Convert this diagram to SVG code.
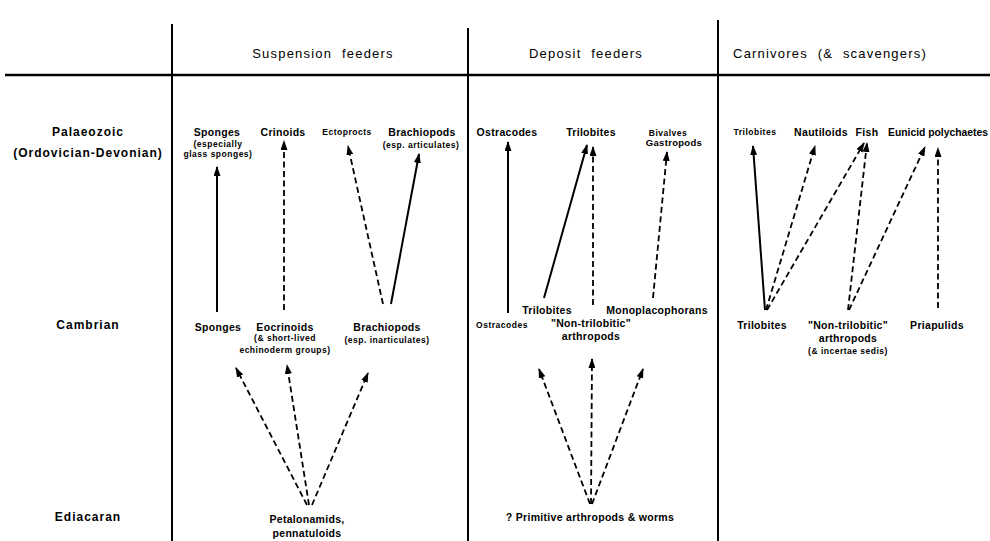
<svg xmlns="http://www.w3.org/2000/svg" width="990" height="541" viewBox="0 0 990 541">
<style>
text{font-family:"Liberation Sans",Arial,sans-serif;fill:#000;text-anchor:middle}
.hd{font-size:13px;letter-spacing:1.2px;word-spacing:5px}
.era{font-size:12px;font-weight:bold;letter-spacing:1px}
.t{font-size:10.5px;font-weight:bold;letter-spacing:0.3px}
.s{font-size:8.5px;font-weight:bold;letter-spacing:0.5px}
.grid{stroke:#000;fill:none}
.sol{stroke:#000;stroke-width:2;fill:none;marker-end:url(#ah)}
.dsh{stroke:#000;stroke-width:1.8;fill:none;stroke-dasharray:6 3.5;marker-end:url(#ah)}
</style>
<defs>
<marker id="ah" viewBox="0 0 10 7" refX="9" refY="3.5" markerWidth="10" markerHeight="7" markerUnits="userSpaceOnUse" orient="auto">
<path d="M0,0 L10,3.5 L0,7 z" fill="#000"/>
</marker>
</defs>
<rect width="990" height="541" fill="#fff"/>
<g id="grid" class="grid">
<line x1="5" y1="75" x2="990" y2="75" stroke-width="2.5"/>
<line x1="172" y1="24" x2="172" y2="541" stroke-width="2"/>
<line x1="468" y1="28" x2="468" y2="541" stroke-width="2"/>
<line x1="718" y1="20" x2="718" y2="541" stroke-width="2"/>
</g>
<g id="headers">
<text class="hd" x="323" y="58">Suspension feeders</text>
<text class="hd" x="586" y="58">Deposit feeders</text>
<text class="hd" x="830" y="58">Carnivores (&amp; scavengers)</text>
</g>
<g id="eras">
<text class="era" x="88" y="136">Palaeozoic</text>
<text class="era" x="88" y="157">(Ordovician-Devonian)</text>
<text class="era" x="88" y="329">Cambrian</text>
<text class="era" x="88" y="521">Ediacaran</text>
</g>
<g id="connectors">
<line class="sol" x1="217" y1="312" x2="217" y2="167"/>
<line class="dsh" x1="284" y1="310" x2="284" y2="141"/>
<line class="dsh" x1="383" y1="304" x2="348" y2="146"/>
<line class="sol" x1="391" y1="304" x2="419" y2="154"/>
<line class="dsh" x1="307" y1="505" x2="236" y2="368"/>
<line class="dsh" x1="309" y1="505" x2="287" y2="365"/>
<line class="dsh" x1="312" y1="505" x2="368" y2="373"/>
<line class="sol" x1="508" y1="313" x2="508" y2="142"/>
<line class="sol" x1="544" y1="298" x2="587" y2="145"/>
<line class="dsh" x1="593" y1="305" x2="593" y2="147"/>
<line class="dsh" x1="653" y1="298" x2="667" y2="152"/>
<line class="dsh" x1="590" y1="504" x2="539" y2="369"/>
<line class="dsh" x1="591" y1="504" x2="592" y2="359"/>
<line class="dsh" x1="592" y1="504" x2="643" y2="369"/>
<line class="sol" x1="765" y1="310" x2="753" y2="146"/>
<line class="dsh" x1="766" y1="310" x2="815" y2="146"/>
<line class="dsh" x1="767" y1="310" x2="864" y2="143"/>
<line class="dsh" x1="848" y1="310" x2="867" y2="143"/>
<line class="dsh" x1="849" y1="310" x2="925" y2="147"/>
<line class="dsh" x1="938" y1="308" x2="938" y2="148"/>
</g>
<g id="sponges-p"><text class="t" x="217" y="136">Sponges</text><text class="s" x="218" y="147">(especially</text><text class="s" x="218" y="157">glass sponges)</text></g>
<g id="crinoids"><text class="t" x="283" y="136">Crinoids</text></g>
<g id="ectoprocts"><text class="s" x="347" y="135">Ectoprocts</text></g>
<g id="brachiopods-p"><text class="t" x="422" y="136">Brachiopods</text><text class="s" x="421" y="148">(esp. articulates)</text></g>
<g id="sponges-c"><text class="t" x="218" y="331">Sponges</text></g>
<g id="eocrinoids"><text class="t" x="285" y="331">Eocrinoids</text><text class="s" x="285" y="341">(&amp; short-lived</text><text class="s" x="285" y="353">echinoderm groups)</text></g>
<g id="brachiopods-c"><text class="t" x="387" y="331">Brachiopods</text><text class="s" x="387" y="343">(esp. inarticulates)</text></g>
<g id="petalonamids"><text class="t" x="307" y="523">Petalonamids,</text><text class="t" x="307" y="537">pennatuloids</text></g>
<g id="ostracodes-p"><text class="t" x="507" y="136">Ostracodes</text></g>
<g id="trilobites-p"><text class="t" x="591" y="136">Trilobites</text></g>
<g id="bivalves"><text class="s" x="668" y="136">Bivalves</text><text class="t" x="674" y="146" style="font-size:9.5px">Gastropods</text></g>
<g id="trilobites-c"><text class="t" x="547" y="314">Trilobites</text></g>
<g id="monoplacophorans"><text class="t" x="657" y="314">Monoplacophorans</text></g>
<g id="ostracodes-c"><text class="s" x="502" y="328">Ostracodes</text></g>
<g id="nontrilobitic-d"><text class="t" x="591" y="327">"Non-trilobitic"</text><text class="t" x="591" y="340">arthropods</text></g>
<g id="primitive"><text class="t" x="590" y="521">? Primitive  arthropods &amp; worms</text></g>
<g id="trilobites-cp"><text class="s" x="755" y="135">Trilobites</text></g>
<g id="nautiloids"><text class="t" x="821" y="136">Nautiloids</text></g>
<g id="fish"><text class="t" x="867" y="136">Fish</text></g>
<g id="eunicid"><text class="t" x="888" y="136" style="text-anchor:start;letter-spacing:0" textLength="100" lengthAdjust="spacingAndGlyphs">Eunicid polychaetes</text></g>
<g id="trilobites-cc"><text class="t" x="762" y="329">Trilobites</text></g>
<g id="nontrilobitic-c"><text class="t" x="848" y="329">"Non-trilobitic"</text><text class="t" x="848" y="342">arthropods</text><text class="s" x="848" y="354">(&amp; incertae sedis)</text></g>
<g id="priapulids"><text class="t" x="937" y="329">Priapulids</text></g>
</svg>
